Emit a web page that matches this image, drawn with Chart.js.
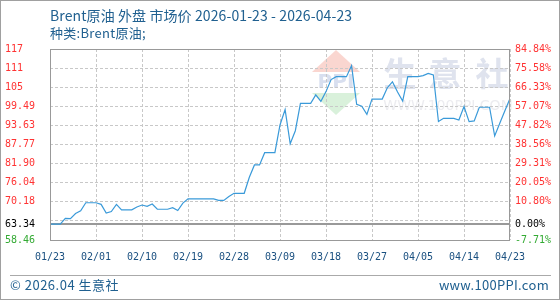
<!DOCTYPE html>
<html>
<head>
<meta charset="utf-8">
<script src="https://cdn.jsdelivr.net/npm/chart.js@4.4.0/dist/chart.umd.min.js"></script>
<style>
body{margin:0;background:#fff;}
.wrap{position:relative;width:560px;height:300px;overflow:hidden;}
.wrap canvas{position:absolute;left:0;top:0;}
.txt{position:absolute;font-family:"Noto Sans CJK SC","Noto Sans",sans-serif;font-size:13px;line-height:18px;color:#206090;white-space:nowrap;}
.title{left:50px;top:6px;font-size:14px;letter-spacing:0.1px;}
.sub{left:50px;top:24px;letter-spacing:0.3px;}
.foot{left:10px;top:276px;letter-spacing:0.5px;}
.site{right:11px;top:276px;letter-spacing:0.3px;}
.line{position:absolute;left:10px;top:275px;width:541px;height:1px;background:#aaa;}
</style>
</head>
<body>
<div class="wrap">
	<canvas id="myChart" width="560" height="300"></canvas>
	<div class="txt title">Brent原油 外盘 市场价 2026-01-23 - 2026-04-23</div>
	<div class="txt sub">种类:Brent原油;</div>
	<div class="line"></div>
	<div class="txt foot">© 2026.04 生意社</div>
	<div class="txt site">www.100PPI.com</div>
</div>
<script>
// x 축 날짜 (9일 간격)
const dateLabels = ['01/23','02/01','02/10','02/19','02/28','03/09','03/18','03/27','04/05','04/14','04/23'];

// 일별 가격 (01/23 ~ 04/23)
const priceValues = [
	63.34, 63.34, 63.34, 65.1, 65.0, 66.6, 67.4, 69.9, 69.9, 69.9,
	69.4, 66.7, 67.2, 69.4, 67.7, 67.7, 67.7, 68.6, 69.2, 68.8,
	69.5, 67.9, 67.9, 67.9, 68.4, 67.5, 69.8, 71.1, 71.1, 71.1,
	71.1, 71.1, 71.1, 70.6, 70.6, 71.8, 72.8, 72.8, 72.8, 77.7,
	81.5, 81.5, 85.25, 85.25, 85.25, 93.75, 98.5, 88.0, 92.0, 100.4,
	100.4, 100.4, 103.0, 101.0, 104.0, 107.7, 108.6, 108.6, 108.6, 112.0,
	100.1, 99.5, 97.0, 101.7, 101.7, 101.7, 105.2, 107.0, 103.9, 101.1,
	108.6, 108.6, 108.6, 108.9, 109.6, 109.1, 94.8, 95.8, 95.8, 95.8,
	95.3, 99.4, 94.8, 95.0, 99.2, 99.2, 99.2, 90.4, 94.3, 98.1,
	101.9
];

const baseValue = 63.34;

// y 축 눈금
const tickValues = [58.46, 63.34, 64.32, 70.18, 76.04, 81.90, 87.77, 93.63, 99.49, 105.35, 111.21, 117.08];
const leftTickLabels = ['58.46', '63.34', '', '70.18', '76.04', '81.90', '87.77', '93.63', '99.49', '105', '111', '117'];
const rightTickLabels = ['-7.71%', '0.00%', '', '10.80%', '20.05%', '29.31%', '38.56%', '47.82%', '57.07%', '66.33%', '75.58%', '84.84%'];

const tickColor = (i) => i == 0 ? '#33aa33' : (i == 1 ? '#000000' : '#ff3333');

const framePlugin = {
	id : 'frame',
	beforeDraw(chart){
		const c = chart.ctx;
		c.save();
		c.fillStyle = '#fff';
		c.fillRect(0, 0, chart.width, chart.height);
		// 워터마크
		c.fillStyle = 'rgba(245,180,170,0.55)';
		c.beginPath(); c.moveTo(336, 50); c.lineTo(360, 72); c.lineTo(312, 72); c.closePath(); c.fill();
		c.fillStyle = 'rgba(185,230,190,0.55)';
		c.beginPath(); c.moveTo(312, 93); c.lineTo(360, 93); c.lineTo(336, 115); c.closePath(); c.fill();
		c.fillStyle = 'rgba(200,210,232,0.7)';
		c.font = 'bold 20px "DejaVu Sans"';
		c.textAlign = 'center'; c.textBaseline = 'middle';
		c.fillText('PPI', 336, 83);
		c.fillStyle = '#dfe3ee';
		c.font = 'bold 33px "Noto Sans CJK SC"';
		c.fillText('生', 400, 73);
		c.fillText('意', 445, 73);
		c.fillText('社', 492, 73);
		c.fillStyle = '#ececf0';
		c.font = '14px "DejaVu Sans"';
		c.fillText('WWW.100PPI.COM', 448, 106);
		c.restore();
	},
	afterDraw(chart){
		const c = chart.ctx;
		const a = chart.chartArea;
		c.save();
		c.strokeStyle = '#999';
		c.lineWidth = 1;
		c.strokeRect(a.left + 0.5, a.top + 0.5, a.right - a.left - 1, a.bottom - a.top);
		c.strokeStyle = '#a0a0a0';
		c.strokeRect(0.5, 0.5, chart.width - 1, chart.height - 1);
		c.restore();
	}
};

const ctx = document.getElementById('myChart');

new Chart(ctx, {
	type : 'line',
	data : {
		datasets : [
			{
				data : priceValues.map((v, i) => ({x : i, y : v})),
				borderColor : '#3a9ad9',
				borderWidth : 1.2,
				pointRadius : 0,
				tension : 0,
				order : 1
			},
			{
				data : [{x : 0, y : baseValue}, {x : priceValues.length - 1, y : baseValue}],
				borderColor : '#999',
				borderWidth : 2,
				pointRadius : 0,
				order : 2
			}
		]
	},
	options : {
		responsive : false,
		animation : false,
		devicePixelRatio : 1,
		layout : { padding : { top : 49, left : 5, right : 0, bottom : 0 } },
		plugins : { legend : { display : false }, tooltip : { enabled : false } },
		scales : {
			x : {
				type : 'linear',
				min : 0,
				max : 90,
				afterBuildTicks : (s) => { s.ticks = dateLabels.map((d, i) => ({value : i * 9})); },
				afterFit : (s) => { s.height = 60; },
				ticks : {
					callback : (v, i) => dateLabels[i],
					font : { family : 'DejaVu Sans Mono', size : 10 },
					color : '#1a5080',
					padding : 11,
					maxRotation : 0,
					autoSkip : false
				},
				grid : { color : '#c8c8c8', drawTicks : false },
				border : { display : false, dash : [3, 2] }
			},
			y : {
				position : 'left',
				min : 58.46,
				max : 117.08,
				afterBuildTicks : (s) => { s.ticks = tickValues.map((v) => ({value : v})); },
				afterFit : (s) => { s.width = 45; },
				ticks : {
					callback : (v, i) => leftTickLabels[i],
					font : { family : 'DejaVu Sans Mono', size : 10 },
					color : (c) => tickColor(c.index),
					crossAlign : 'far',
					autoSkip : false
				},
				grid : { color : (c) => c.index == 1 ? 'rgba(0,0,0,0)' : '#c8c8c8', drawTicks : false },
				border : { display : false, dash : [3, 2] }
			},
			y2 : {
				position : 'right',
				min : 58.46,
				max : 117.08,
				afterBuildTicks : (s) => { s.ticks = tickValues.map((v) => ({value : v})); },
				afterFit : (s) => { s.width = 50; },
				ticks : {
					callback : (v, i) => rightTickLabels[i],
					font : { family : 'DejaVu Sans Mono', size : 10 },
					color : (c) => tickColor(c.index),
					padding : 5,
					autoSkip : false
				},
				grid : { display : false, drawTicks : false },
				border : { display : false }
			}
		}
	},
	plugins : [framePlugin]
});
</script>
</body>
</html>
